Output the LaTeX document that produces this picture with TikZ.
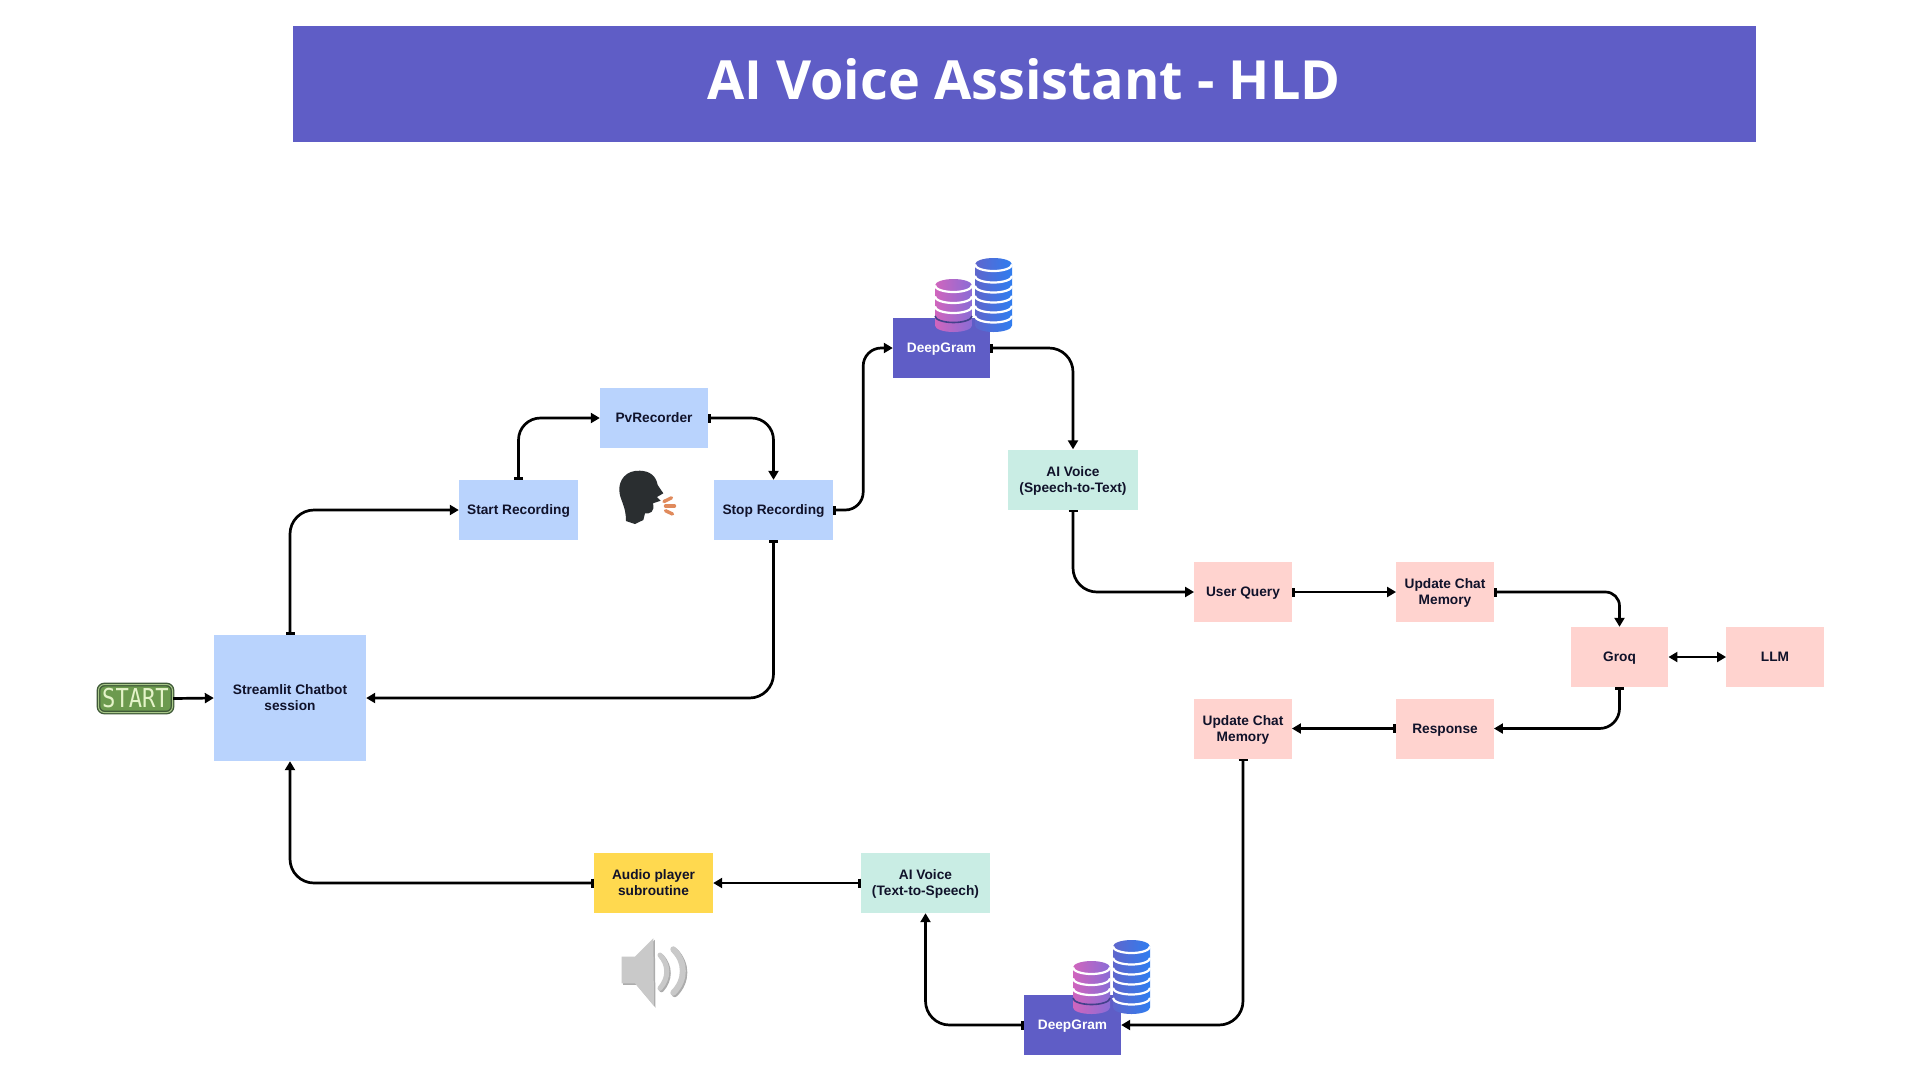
\documentclass[tikz,border=0pt]{standalone}
\usepackage{fontspec}
\setmainfont{Liberation Sans}
\newfontfamily\titlefont{Open Sans}
\newfontfamily\startfont{DejaVu Sans Mono}
\usepackage{xcolor}
\usetikzlibrary{arrows.meta}
\definecolor{figpurple}{HTML}{5F5DC6}
\definecolor{figblue}{HTML}{B9D3FD}
\definecolor{figteal}{HTML}{C9EDE4}
\definecolor{figpink}{HTML}{FFD3CF}
\definecolor{figyellow}{HTML}{FFD94F}
\definecolor{figink}{HTML}{10122A}
\definecolor{figstackpink}{HTML}{D065BD}
\definecolor{figstackviolet}{HTML}{8A6CD6}
\definecolor{figstackslate}{HTML}{5F66CC}
\definecolor{figstacksky}{HTML}{2F7DF0}
\definecolor{fighead}{HTML}{2A2E30}
\definecolor{figsound}{HTML}{E08A5C}
\definecolor{figstartfill}{HTML}{6C9A4E}
\definecolor{figstartedge}{HTML}{3F5A38}
\definecolor{figstartrim}{HTML}{A9C889}
\definecolor{figstarttext}{HTML}{E4F3C8}
\tikzset{
  figfont/.style={font=\fontsize{13.7}{16}\selectfont\bfseries},
  figbox/.style={figfont, text=figink, align=center, inner sep=0pt, minimum height=60pt, text depth=0pt},
  figblue/.style={figbox, fill=figblue},
  figteal/.style={figbox, fill=figteal},
  figpink/.style={figbox, fill=figpink, minimum width=97.5pt},
  figyellow/.style={figbox, fill=figyellow},
  figpurple/.style={figbox, fill=figpurple, text=white, minimum width=97pt},
  figarrow/.style={{Bar[width=9pt,length=2.4pt]}-{Triangle[length=9pt,width=10pt]}, line width=2.7pt, rounded corners=24pt},
  figarrowsoft/.style={figarrow, rounded corners=14pt},
  figarrowplain/.style={figarrow, -{Triangle[length=9pt,width=10pt]}},
  figarrowboth/.style={figarrow, {Triangle[length=9pt,width=10pt]}-{Triangle[length=9pt,width=10pt]}},
}
% one stack of disks: left x, top y, bottom y, two colours
\newcommand{\dbdisks}[5]{
  \path[left color=#4, right color=#5]
    (#1,#2+6.5) arc[start angle=180, end angle=0, x radius=18.5, y radius=-6.5]
    -- (#1+37,#3-6.5) arc[start angle=0, end angle=-180, x radius=18.5, y radius=-6.5] -- cycle;
}
\newcommand{\dbstacks}[2]{
  \begin{scope}[shift={(#1,#2)}]
    % pink stack
    \dbdisks{0}{0}{53}{figstackpink}{figstackviolet}
    \foreach \by in {6.5,17.5,27.5}
      \draw[white, line width=2.2pt] (0,\by) arc[start angle=180, end angle=360, x radius=18.5, y radius=-6.5];
    \draw[figpurple!70!black, line width=1.6pt] (0,37) arc[start angle=180, end angle=360, x radius=18.5, y radius=-6.5];
    % blue stack
    \dbdisks{40}{-21}{53}{figstackslate}{figstacksky}
    \foreach \by in {-14.5,-3,7,17,27,37}
      \draw[white, line width=2.2pt] (40,\by) arc[start angle=180, end angle=360, x radius=18.5, y radius=-6.5];
  \end{scope}
}
\begin{document}
\begin{tikzpicture}[x=1pt,y=-1pt]
  \useasboundingbox (0,0) rectangle (1920,1080);
  \fill[white] (0,0) rectangle (1920,1080);

  % Title band
  \node[fill=figpurple, minimum width=1463pt, minimum height=116pt, inner sep=0pt] (titlebar) at (1024.5,84) {};
  \node[font=\fontsize{54}{54}\selectfont\titlefont\bfseries, text=white, inner sep=0pt] (titletext) at (1024,79) {AI Voice Assistant - HLD};

  % Recording loop
  \node[figblue, minimum width=152pt, minimum height=126pt] (session) at (290,698) {Streamlit Chatbot\\session};
  \node[figblue, minimum width=119pt] (startrec) at (518.5,510) {Start Recording};
  \node[figblue, minimum width=108pt] (pvrec) at (654,418) {PvRecorder};
  \node[figblue, minimum width=119pt] (stoprec) at (773.5,510) {Stop Recording};

  % Speech to text and LLM
  \node[figpurple] (gramin) at (941.5,348) {DeepGram};
  \node[figteal, minimum width=130pt] (stt) at (1073,479.5) {AI Voice\\(Speech-to-Text)};
  \node[figpink] (query) at (1243,592) {User Query};
  \node[figpink] (memin) at (1445,592) {Update Chat\\Memory};
  \node[figpink] (groq) at (1619.5,657) {Groq};
  \node[figpink] (llm) at (1775,657) {LLM};
  \node[figpink] (reply) at (1445,728.5) {Response};
  \node[figpink] (memout) at (1243,728.5) {Update Chat\\Memory};

  % Text to speech and playback
  \node[figpurple] (gramout) at (1072.5,1025) {DeepGram};
  \node[figteal, minimum width=129pt] (tts) at (925.5,883) {AI Voice\\(Text-to-Speech)};
  \node[figyellow, minimum width=119pt] (player) at (653.5,883) {Audio player\\subroutine};

  % Start button
  \node[fill=figstartfill, draw=figstartedge, line width=1.4pt, double=figstartrim, double distance=1pt, rounded corners=6pt, text=figstarttext,
    font=\fontsize{26}{26}\selectfont\startfont, inner sep=0pt, minimum width=74pt, minimum height=28pt] (startbtn) at (135.5,698.5)
    {\scalebox{0.85}[1]{START}};

  % Database stacks
  \dbstacks{935}{279}
  \dbstacks{1073}{961}

  % Speaking head
  \fill[fighead] (640,470.7) .. controls (626,470) and (619,480) .. (619.3,490)
    .. controls (619.5,500) and (626,505) .. (626,521) -- (635,524) -- (643.3,520) -- (645,513.3)
    .. controls (650,514) and (655,512) .. (653,503.3) -- (660.7,500.7) -- (657,497) -- (663.3,493.3) -- (657.7,485)
    .. controls (656,476) and (650,471) .. (640,470.7) -- cycle;
  \draw[figsound, line width=3.4pt, line cap=round] (664,501.5) -- (671.5,497.8);
  \draw[figsound, line width=3.4pt, line cap=round] (665.5,506) -- (674.5,506);
  \draw[figsound, line width=3.4pt, line cap=round] (665.5,510.7) -- (672.5,514);

  % Speaker
  \foreach \sx/\scol in {1.5/gray!65, 0/gray!42}{
    \fill[\scol, xshift=\sx, yshift=-\sx] (621.7,956.7) -- (635,956.7) -- (653.3,938.3) -- (654,1006) -- (635,983.3) -- (621.7,983.3) -- cycle;
    \draw[\scol, line width=5pt, line cap=round, xshift=\sx, yshift=-\sx] (660,955) .. controls (669,965) and (669,978) .. (660,988.3);
    \draw[\scol, line width=6pt, line cap=round, xshift=\sx, yshift=-\sx] (673.3,949.3) .. controls (686,962) and (686,980) .. (673.3,992.7);
  }

  % Connectors
  \draw[figarrowplain] (startbtn.east) -- (session.west);
  \draw[figarrow] (session.north) |- (startrec.west);
  \draw[figarrow, rounded corners=22pt] (startrec.north) |- (pvrec.west);
  \draw[figarrow, rounded corners=22pt] (pvrec.east) -| (stoprec.north);
  \draw[figarrow, rounded corners=18pt] (stoprec.east) -- ++(30,0) |- (gramin.west);
  \draw[figarrow] (stoprec.south) |- (session.east);
  \draw[figarrow] (gramin.east) -| (stt.north);
  \draw[figarrow] (stt.south) |- (query.west);
  \draw[figarrow] (query.east) -- (memin.west);
  \draw[figarrowsoft] (memin.east) -| (groq.north);
  \draw[figarrowboth] (groq.east) -- (llm.west);
  \draw[figarrowsoft, rounded corners=20pt] (groq.south) |- (reply.east);
  \draw[figarrow] (reply.west) -- (memout.east);
  \draw[figarrow] (memout.south) |- (gramout.east);
  \draw[figarrow] (gramout.west) -| (tts.south);
  \draw[figarrow] (tts.west) -- (player.east);
  \draw[figarrow] (player.west) -| (session.south);
\end{tikzpicture}
\end{document}
